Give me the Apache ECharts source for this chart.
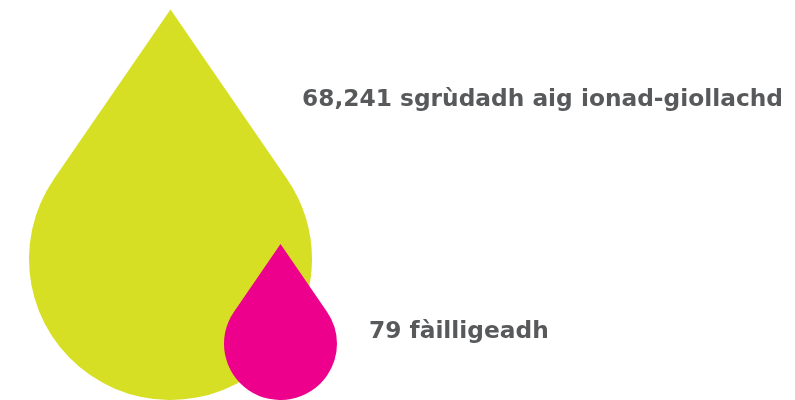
<!DOCTYPE html>
<html>
<head>
<meta charset="utf-8">
<script src="https://cdn.jsdelivr.net/npm/echarts@6/dist/echarts.min.js"></script>
<style>html,body{margin:0;padding:0;background:#fff}#c{width:795px;height:400px}</style>
</head>
<body>
<div id="c"></div>
<script>
// Data
const counts = [68241, 79];
const descriptions = ['sgrùdadh aig ionad-giollachd', 'fàilligeadh'];
const categories = ['ionad-giollachd', 'fàilligeadh'];

// Styles (kept apart from data)
const dropColors = ['#d6df23', '#ec008c'];
const dropWidths = [283, 113];
const labelOffsets = [[273, 90], [145, 88]];
const DROP = 'path://M1 0 L0.175 1.205 A1 1 0 1 0 1.825 1.205 Z';
const ASPECT = 1.38;

const chart = echarts.init(document.getElementById('c'), null, {renderer: 'canvas'});
chart.setOption({
  animation: false,
  grid: {left: 115.5, width: 220, top: 0, height: 400},
  xAxis: {type: 'category', data: categories, show: false},
  yAxis: {type: 'value', min: 0, max: 1, show: false},
  series: [{
    type: 'scatter',
    clip: false,
    symbol: DROP,
    symbolKeepAspect: false,
    symbolOffset: [0, '-50%'],
    data: counts.map((v, i) => ({
      value: [categories[i], 0, v],
      symbolSize: [dropWidths[i], dropWidths[i] * ASPECT],
      itemStyle: {color: dropColors[i], opacity: 1},
      label: {
        show: true,
        position: labelOffsets[i],
        align: 'left',
        verticalAlign: 'middle',
        formatter: () => v.toLocaleString('en-US') + ' ' + descriptions[i],
        color: '#58595b',
        fontFamily: 'DejaVu Sans',
        fontWeight: 'bold',
        fontSize: 23.3
      }
    })),
    emphasis: {disabled: true}
  }]
});
</script>
</body>
</html>
